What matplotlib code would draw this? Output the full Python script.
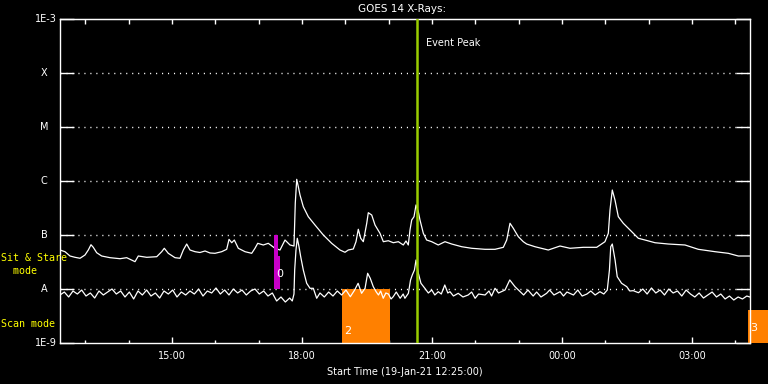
import numpy as np
import matplotlib
matplotlib.use('Agg')
import matplotlib.pyplot as plt

# GOES 14 X-ray flux, hours after 19-Jan-21 12:25 UT, log10 flux (W/m^2)
long_t = [0.0, 0.115, 0.231, 0.346, 0.462, 0.577, 0.653, 0.715, 0.768, 0.847,
          0.962, 1.154, 1.385, 1.539, 1.731, 1.807, 2.001, 2.232, 2.347, 2.407,
          2.499, 2.654, 2.769, 2.846, 2.924, 3.000, 3.116, 3.231, 3.347, 3.462,
          3.577, 3.732, 3.847, 3.901, 3.963, 4.023, 4.115, 4.270, 4.424, 4.500,
          4.563, 4.692, 4.807, 4.962, 5.077, 5.193, 5.308, 5.400, 5.430, 5.463,
          5.500, 5.539, 5.615, 5.730, 5.885, 6.077, 6.270, 6.462, 6.577, 6.653,
          6.769, 6.831, 6.884, 6.940, 7.000, 7.079, 7.115, 7.194, 7.270, 7.385,
          7.462, 7.577, 7.692, 7.808, 7.923, 7.985, 8.038, 8.077, 8.117, 8.170,
          8.216, 8.269, 8.308, 8.385, 8.462, 8.578, 8.730, 8.885, 9.040, 9.271,
          9.501, 9.808, 10.039, 10.231, 10.309, 10.385, 10.462, 10.577, 10.692, 10.770,
          10.962, 11.269, 11.539, 11.770, 12.077, 12.386, 12.577, 12.654, 12.693, 12.746,
          12.808, 12.885, 13.000, 13.155, 13.347, 13.501, 13.732, 14.039, 14.424, 14.731,
          15.116, 15.423, 15.654, 15.924]
long_logflux = [-7.278, -7.309, -7.389, -7.413, -7.431, -7.370, -7.278, -7.180, -7.228, -7.328,
                -7.389, -7.420, -7.439, -7.420, -7.494, -7.389, -7.413, -7.402, -7.309, -7.246,
                -7.339, -7.420, -7.431, -7.278, -7.167, -7.278, -7.309, -7.324, -7.296, -7.333,
                -7.339, -7.309, -7.265, -7.080, -7.143, -7.093, -7.246, -7.309, -7.339, -7.246,
                -7.154, -7.185, -7.154, -7.246, -7.278, -7.093, -7.185, -7.204, -6.407, -5.969,
                -6.106, -6.259, -6.476, -6.661, -6.815, -7.000, -7.154, -7.278, -7.320, -7.278,
                -7.259, -7.124, -6.894, -7.061, -7.124, -6.783, -6.587, -6.630, -6.815, -6.969,
                -7.124, -7.106, -7.143, -7.124, -7.185, -7.111, -7.185, -6.907, -6.722, -6.661,
                -6.444, -6.569, -6.722, -6.969, -7.093, -7.124, -7.185, -7.124, -7.167, -7.217,
                -7.246, -7.265, -7.265, -7.228, -7.093, -6.783, -6.876, -7.031, -7.124, -7.167,
                -7.217, -7.278, -7.204, -7.246, -7.228, -7.228, -7.124, -6.969, -6.537, -6.167,
                -6.352, -6.661, -6.783, -6.907, -7.061, -7.093, -7.143, -7.167, -7.185, -7.265,
                -7.309, -7.339, -7.389, -7.389]

short_t = [0.0, 0.1, 0.2, 0.3, 0.4, 0.5, 0.6, 0.7, 0.8, 0.9,
           1.0, 1.1, 1.2, 1.3, 1.4, 1.5, 1.6, 1.7, 1.8, 1.9,
           2.0, 2.1, 2.2, 2.3, 2.4, 2.5, 2.6, 2.7, 2.8, 2.9,
           3.0, 3.1, 3.2, 3.3, 3.4, 3.5, 3.6, 3.7, 3.8, 3.9,
           4.0, 4.1, 4.2, 4.3, 4.4, 4.5, 4.6, 4.7, 4.8, 4.9,
           5.0, 5.1, 5.2, 5.30, 5.36, 5.40, 5.416, 5.446, 5.476, 5.516,
           5.555, 5.615, 5.693, 5.770, 5.846, 5.924, 6.0, 6.1, 6.2, 6.3,
           6.4, 6.5, 6.6, 6.7, 6.8, 6.88, 6.96, 7.04, 7.10, 7.16,
           7.23, 7.30, 7.35, 7.40, 7.46, 7.52, 7.58, 7.64, 7.69, 7.76,
           7.85, 7.92, 7.96, 8.04, 8.09, 8.13, 8.18, 8.216, 8.27, 8.33,
           8.42, 8.50, 8.58, 8.65, 8.73, 8.80, 8.88, 8.95, 9.00, 9.08,
           9.19, 9.30, 9.42, 9.50, 9.58, 9.66, 9.81, 9.90, 9.96, 10.04,
           10.12, 10.27, 10.38, 10.50, 10.62, 10.70, 10.80, 10.92, 11.00, 11.10,
           11.23, 11.30, 11.40, 11.54, 11.62, 11.70, 11.85, 11.95, 12.05, 12.16,
           12.25, 12.35, 12.46, 12.55, 12.63, 12.68, 12.71, 12.746, 12.81, 12.86,
           12.96, 13.08, 13.15, 13.23, 13.35, 13.45, 13.55, 13.65, 13.75, 13.85,
           13.95, 14.05, 14.15, 14.25, 14.35, 14.45, 14.55, 14.65, 14.75, 14.85,
           14.95, 15.05, 15.15, 15.25, 15.35, 15.45, 15.55, 15.65, 15.75, 15.85,
           15.92]
short_logflux = [-8.111, -8.056, -8.148, -8.037, -8.093, -8.019, -8.130, -8.074, -8.167, -8.037,
                 -8.111, -8.056, -8.000, -8.093, -8.037, -8.148, -8.056, -8.185, -8.037, -8.111,
                 -8.019, -8.130, -8.074, -8.167, -8.037, -8.093, -8.019, -8.148, -8.056, -8.111,
                 -8.037, -8.093, -8.000, -8.130, -8.037, -8.074, -7.981, -8.093, -8.019, -8.111,
                 -8.000, -8.074, -8.019, -8.111, -8.037, -8.000, -8.093, -8.037, -8.130, -8.074,
                 -8.222, -8.148, -8.241, -8.167, -8.222, -8.093, -7.648, -7.278, -7.061, -7.217,
                 -7.402, -7.648, -7.894, -7.987, -7.987, -8.172, -8.074, -8.148, -8.056, -8.130,
                 -8.037, -8.111, -8.019, -8.143, -8.019, -7.894, -8.080, -7.987, -7.709, -7.802,
                 -7.957, -8.056, -8.111, -8.037, -8.172, -8.074, -8.093, -8.185, -8.143, -8.056,
                 -8.172, -8.093, -8.172, -8.080, -7.833, -7.741, -7.648, -7.463, -7.709, -7.894,
                 -7.987, -8.074, -8.019, -8.111, -8.050, -8.093, -7.926, -8.074, -8.050, -8.130,
                 -8.080, -8.148, -8.111, -8.056, -8.172, -8.093, -8.111, -8.037, -8.130, -7.987,
                 -8.074, -8.019, -7.833, -7.957, -8.050, -8.111, -8.019, -8.130, -8.056, -8.148,
                 -8.080, -8.019, -8.111, -8.050, -8.130, -8.056, -8.111, -8.019, -8.130, -8.093,
                 -8.037, -8.111, -8.050, -8.093, -8.019, -7.648, -7.217, -7.167, -7.463, -7.772,
                 -7.894, -7.957, -8.037, -8.031, -8.069, -8.000, -8.093, -7.981, -8.074, -8.019,
                 -8.111, -8.000, -8.074, -8.037, -8.130, -8.019, -8.093, -8.148, -8.074, -8.167,
                 -8.111, -8.056, -8.148, -8.093, -8.185, -8.130, -8.204, -8.148, -8.185, -8.130,
                 -8.148]

t_end = 15.924
event_peak_t = 8.23
# observing modes: sit & stare (magenta) and scan (orange)
sit_stare_t = [4.946, 5.024, 5.077]
sit_stare_top = [1e-7, 4.08e-8]
scan_t = [[6.50, 7.615], [15.87, 16.34]]
scan_top = [1e-8, 4.1e-9]
mode_ids = ['0', '2', '3']

class_levels = [1e-9, 1e-8, 1e-7, 1e-6, 1e-5, 1e-4, 1e-3]
class_labels = ['1E-9', 'A', 'B', 'C', 'M', 'X', '1E-3']
major_t = [2.583, 5.583, 8.583, 11.583, 14.583]
major_labels = ['15:00', '18:00', '21:00', '00:00', '03:00']
hour_t = [0.583, 1.583, 2.583, 3.583, 4.583, 5.583, 6.583, 7.583, 8.583,
          9.583, 10.583, 11.583, 12.583, 13.583, 14.583, 15.583]

plt.rcParams['font.family'] = 'DejaVu Sans'
fig = plt.figure(figsize=(7.68, 3.84), dpi=100, facecolor='black')
ax = fig.add_axes([60 / 768, 41 / 384, 690 / 768, 324 / 384], facecolor='black')
ax.set_yscale('log')
ax.set_xlim(0, t_end)
ax.set_ylim(1e-9, 1e-3)

# dotted class lines
for lev in class_levels[1:-1]:
    ax.axhline(lev, color='white', lw=1.0, dashes=(0.8, 3.5), zorder=1)

# scan mode boxes
for (t0, t1), top in zip(scan_t, scan_top):
    ax.fill_between([t0, t1], 1e-9, top, color='#ff8000', lw=0, zorder=2, clip_on=False)

ax.plot(np.array(long_t), 10 ** np.array(long_logflux), color='white', lw=0.9, zorder=3)
ax.plot(np.array(short_t), 10 ** np.array(short_logflux), color='white', lw=0.9, zorder=3)

# sit & stare bar
ax.fill_between(sit_stare_t[0:2], 1e-8, sit_stare_top[0], color='#c800c8', lw=0, zorder=4)
ax.fill_between(sit_stare_t[1:3], 1e-8, sit_stare_top[1], color='#c800c8', lw=0, zorder=4)

ax.axvline(event_peak_t, color='#9acd00', lw=1.8, zorder=5)
ax.text(event_peak_t + 0.22, 3.6e-4, 'Event Peak', color='white', fontsize=7,
        va='center', ha='left')

ax.text(5.06, 1.9e-8, mode_ids[0], color='white', fontsize=8, ha='center', va='center', zorder=6)
ax.text(6.55, 1.7e-9, mode_ids[1], color='white', fontsize=8, ha='left', va='center', zorder=6)
ax.text(15.93, 1.9e-9, mode_ids[2], color='white', fontsize=8, ha='left', va='center',
        zorder=6, clip_on=False)

# axes styling
for s in ax.spines.values():
    s.set_color('white')
    s.set_linewidth(1)

ax.set_yticks(class_levels)
ax.set_yticklabels([])
ax.yaxis.set_minor_locator(matplotlib.ticker.NullLocator())
ax.tick_params(axis='y', which='major', direction='in', length=10, width=1,
               color='white', left=True, right=True)
ytr = ax.get_yaxis_transform()
for lev, lab in zip(class_levels, class_labels):
    if lab.startswith('1E'):
        ax.text(-0.005, lev, lab, transform=ytr, color='white', fontsize=7,
                ha='right', va='center')
    else:
        ax.text(-0.023, lev, lab, transform=ytr, color='white', fontsize=7,
                ha='center', va='center')

ax.set_xticks(major_t)
ax.set_xticklabels(major_labels)
ax.set_xticks(hour_t, minor=True)
ax.tick_params(axis='x', which='major', direction='in', length=4.3, width=1,
               color='white', labelcolor='white', labelsize=7, pad=6)
ax.tick_params(axis='x', which='minor', direction='in', length=2.2, width=1, color='white')
top = ax.secondary_xaxis('top')
top.set_xticks(hour_t)
top.set_xticklabels([])
top.tick_params(direction='in', length=3.6, width=1, color='white')
top.spines['top'].set_color('white')

ax.set_xlabel('Start Time (19-Jan-21 12:25:00)', color='white', fontsize=7, labelpad=4)
fig.text(402 / 768, 1 - 9 / 384, 'GOES 14 X-Rays:', color='white', fontsize=7.5,
         ha='center', va='center')

mono = 'DejaVu Sans Mono'
fig.text(1 / 768, 1 - 258 / 384, 'Sit & Stare', color='#ffff00', fontsize=7.2,
         family=mono, ha='left', va='center')
fig.text(1 / 768, 1 - 271 / 384, '  mode', color='#ffff00', fontsize=7.2,
         family=mono, ha='left', va='center')
fig.text(1 / 768, 1 - 324 / 384, 'Scan mode', color='#ffff00', fontsize=7.2,
         family=mono, ha='left', va='center')

fig.savefig('out.png', dpi=100, facecolor='black')
